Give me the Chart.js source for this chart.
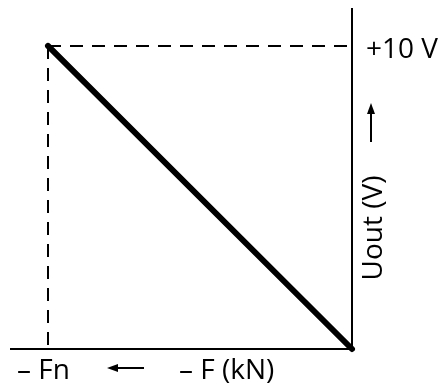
<!DOCTYPE html>
<html>
<head>
<meta charset="utf-8">
<script src="https://cdn.jsdelivr.net/npm/chart.js@4.4.0/dist/chart.umd.min.js"></script>
<style>
  html, body { margin: 0; padding: 0; background: #fff; }
  #wrap { width: 443px; height: 385px; }
</style>
</head>
<body>
<div id="wrap"><canvas id="chart"></canvas></div>
<script>
// Force runs from -Fn (relative -1) to 0, output voltage from +10 V to 0
const forceKN = [-1, 0];
const uoutV = [10, 0];
const xRange = [-1.125, 0];
const yRange = [0, 11.25];
const xTickLabel = '– Fn';
const yTickLabel = '+10 V';
const xAxisTitle = '– F (kN)';
const yAxisTitle = 'Uout (V)';

const FONT = '"Open Sans", sans-serif';

function pts(xs, ys) {
    return xs.map((x, i) => ({ x: x, y: ys[i] }));
}

// Text and arrows placed from the scales
const labelsPlugin = {
    id: 'labels',
    afterDraw(chart) {
        const ctx = chart.ctx;
        const xs = chart.scales.x, ys = chart.scales.y;
        const x0 = xs.getPixelForValue(0);
        const xFn = xs.getPixelForValue(forceKN[0]);
        const y0 = ys.getPixelForValue(0);
        const yTop = ys.getPixelForValue(uoutV[0]);
        ctx.save();
        ctx.fillStyle = '#000';
        ctx.strokeStyle = '#000';
        ctx.font = '28px ' + FONT;
        ctx.textBaseline = 'alphabetic';

        // tick labels
        ctx.textAlign = 'left';
        ctx.fillText(yTickLabel, x0 + 14, yTop + 12);
        ctx.fillText(xTickLabel, xFn - 31, y0 + 30);
        ctx.fillText(xAxisTitle, xFn + 131, y0 + 30);

        // y axis title, rotated
        ctx.save();
        ctx.translate(x0 + 30, 228);
        ctx.rotate(-Math.PI / 2);
        ctx.textAlign = 'center';
        ctx.fillText(yAxisTitle, 0, 0);
        ctx.restore();

        // arrows
        ctx.lineWidth = 2;
        // up arrow
        const ax = x0 + 19;
        ctx.beginPath();
        ctx.moveTo(ax, 142);
        ctx.lineTo(ax, 110);
        ctx.stroke();
        ctx.beginPath();
        ctx.moveTo(ax, 103);
        ctx.lineTo(ax - 4, 114);
        ctx.lineTo(ax + 4, 114);
        ctx.closePath();
        ctx.fill();
        // left arrow
        const ay = y0 + 19;
        ctx.beginPath();
        ctx.moveTo(xFn + 96, ay);
        ctx.lineTo(xFn + 68, ay);
        ctx.stroke();
        ctx.beginPath();
        ctx.moveTo(xFn + 59, ay);
        ctx.lineTo(xFn + 70, ay - 4);
        ctx.lineTo(xFn + 70, ay + 4);
        ctx.closePath();
        ctx.fill();
        ctx.restore();
    }
};

const ctx = document.getElementById('chart').getContext('2d');
const chart = new Chart(ctx, {
    type: 'scatter',
    data: {
        datasets: [
            {   // main characteristic
                data: pts(forceKN, uoutV),
                showLine: true,
                borderColor: '#000',
                borderWidth: 6,
                borderCapStyle: 'round',
                pointRadius: 0,
                clip: false
            },
            {   // dashed guide to +10 V
                data: pts([forceKN[0], 0], [uoutV[0], uoutV[0]]),
                showLine: true,
                borderColor: '#000',
                borderWidth: 2,
                borderDash: [13, 9],
                pointRadius: 0,
                clip: false
            },
            {   // dashed guide to -Fn
                data: pts([forceKN[0], forceKN[0]], [uoutV[0], 0]),
                showLine: true,
                borderColor: '#000',
                borderWidth: 2,
                borderDash: [13, 9],
                pointRadius: 0,
                clip: false
            },
            {   // x axis
                data: pts(xRange, [0, 0]),
                showLine: true,
                borderColor: '#000',
                borderWidth: 2,
                pointRadius: 0,
                clip: false
            },
            {   // y axis
                data: pts([0, 0], yRange),
                showLine: true,
                borderColor: '#000',
                borderWidth: 2,
                pointRadius: 0,
                clip: false
            }
        ]
    },
    options: {
        responsive: true,
        maintainAspectRatio: false,
        animation: false,
        layout: { padding: { left: 10, right: 91, top: 8, bottom: 36 } },
        scales: {
            x: { type: 'linear', display: false, min: xRange[0], max: xRange[1] },
            y: { type: 'linear', display: false, min: yRange[0], max: yRange[1] }
        },
        plugins: {
            legend: { display: false },
            tooltip: { enabled: false }
        }
    },
    plugins: [labelsPlugin]
});
</script>
</body>
</html>
